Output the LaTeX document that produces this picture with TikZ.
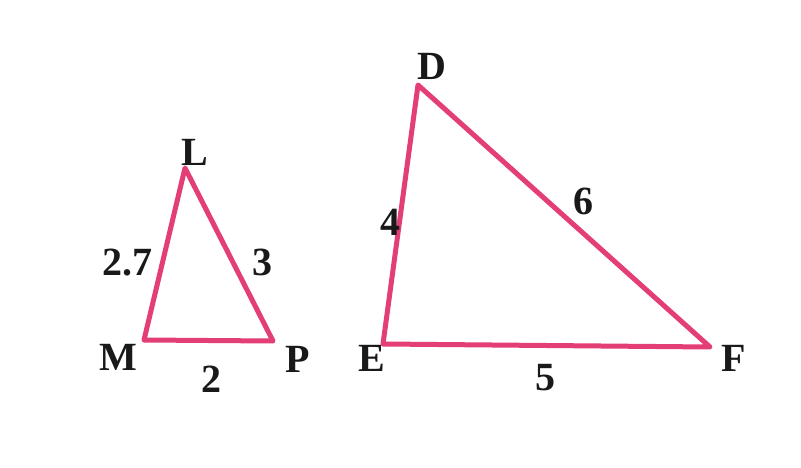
\documentclass[tikz,border=0pt]{standalone}
\usepackage{fontspec}
\setmainfont{Liberation Serif}
\definecolor{tri}{RGB}{228,62,118}
\begin{document}
\begin{tikzpicture}[x=1pt,y=-1pt,
  side/.style={draw=tri,line width=5pt,line join=round,line cap=round},
  lbl/.style={font=\fontsize{40}{40}\selectfont\bfseries,inner sep=0pt,text=black!90}]
\useasboundingbox (0,0) rectangle (801,468);
\fill[white] (0,0) rectangle (801,468);
\coordinate (L) at (185,168);
\coordinate (M) at (144,340);
\coordinate (P) at (273,341);
\coordinate (D) at (418,85);
\coordinate (E) at (383,344);
\coordinate (F) at (710,347);
\draw[side] (L) -- (M) -- (P) -- cycle;
\draw[side] (D) -- (E) -- (F) -- cycle;
\node[lbl] (lL) at (195,152) {L};
\node[lbl] (lM) at (118,357) {M};
\node[lbl] (lP) at (298,359) {P};
\node[lbl] (lD) at (432,66) {D};
\node[lbl] (lE) at (372,358) {E};
\node[lbl] (lF) at (734,358) {F};
\node[lbl] (s27) at (127,263) {2.7};
\node[lbl] (s3) at (262,262) {3};
\node[lbl] (s2) at (211,379) {2};
\node[lbl] (s4) at (390,222) {4};
\node[lbl] (s6) at (583,201) {6};
\node[lbl] (s5) at (545,378) {5};
\end{tikzpicture}
\end{document}
